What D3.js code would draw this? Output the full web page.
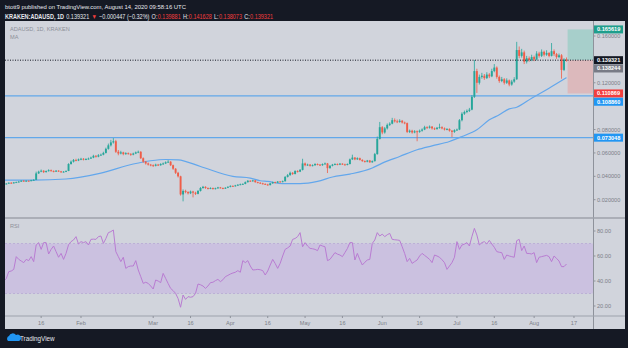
<!DOCTYPE html>
<html><head><meta charset="utf-8">
<script src="https://cdn.jsdelivr.net/npm/d3@7"></script>
<style>html,body{margin:0;padding:0;background:#151924;}svg{display:block}</style>
</head><body><svg id="c" width="628" height="348"></svg>
<script>
// ---------------- DATA ----------------
const startDate = "2020-01-01";
const firstOpen = 0.0330;
const closes = [
0.0335,0.0338,0.0345,0.0340,0.0348,0.0350,0.0355,0.0362,0.0358,0.0362,
0.0360,0.0366,0.0370,0.0425,0.0440,0.0448,0.0436,0.0445,0.0452,0.0446,
0.0440,0.0448,0.0442,0.0436,0.0440,0.0446,0.0505,0.0525,0.0540,0.0535,
0.0545,0.0550,0.0542,0.0548,0.0552,0.0560,0.0575,0.0568,0.0580,0.0585,
0.0600,0.0635,0.0665,0.0690,0.0700,0.0610,0.0595,0.0605,0.0590,0.0598,
0.0592,0.0585,0.0595,0.0605,0.0610,0.0555,0.0525,0.0510,0.0500,0.0495,
0.0490,0.0500,0.0495,0.0505,0.0510,0.0520,0.0525,0.0495,0.0465,0.0430,
0.0400,0.0245,0.0275,0.0265,0.0255,0.0270,0.0260,0.0250,0.0275,0.0300,
0.0310,0.0300,0.0295,0.0300,0.0292,0.0298,0.0305,0.0300,0.0295,0.0302,
0.0310,0.0318,0.0315,0.0322,0.0328,0.0332,0.0335,0.0350,0.0362,0.0358,
0.0365,0.0350,0.0345,0.0340,0.0335,0.0330,0.0325,0.0340,0.0350,0.0345,
0.0355,0.0352,0.0358,0.0395,0.0410,0.0430,0.0420,0.0445,0.0440,0.0455,
0.0510,0.0495,0.0500,0.0490,0.0495,0.0505,0.0500,0.0495,0.0505,0.0510,
0.0470,0.0490,0.0500,0.0505,0.0500,0.0508,0.0502,0.0498,0.0505,0.0545,
0.0560,0.0545,0.0555,0.0540,0.0530,0.0525,0.0535,0.0520,0.0530,0.0590,
0.0720,0.0820,0.0775,0.0810,0.0840,0.0850,0.0880,0.0870,0.0865,0.0875,
0.0860,0.0855,0.0780,0.0790,0.0775,0.0785,0.0780,0.0790,0.0800,0.0820,
0.0815,0.0825,0.0810,0.0805,0.0815,0.0820,0.0810,0.0800,0.0805,0.0790,
0.0780,0.0795,0.0800,0.0880,0.0935,0.0950,0.0960,0.0970,0.1080,0.1300,
0.1200,0.1250,0.1260,0.1240,0.1270,0.1255,0.1300,0.1330,0.1250,0.1215,
0.1230,0.1200,0.1220,0.1185,0.1210,0.1230,0.1480,0.1430,0.1460,0.1380,
0.1410,0.1395,0.1420,0.1400,0.1450,0.1430,0.1465,0.1440,0.1455,0.1430,
0.1470,0.1445,0.1420,0.1435,0.1310,0.139881,0.139321];
const highs = [
.0338,.0342,.0348,.0350,.0352,.0355,.0360,.0366,.0368,.0366,
.0365,.0370,.0375,.0440,.0448,.0458,.0452,.0450,.0460,.0458,
.0450,.0453,.0452,.0446,.0445,.0450,.0512,.0535,.0548,.0550,
.0552,.0558,.0556,.0555,.0560,.0568,.0584,.0582,.0590,.0594,
.0610,.0645,.0680,.0712,.0727,.0712,.0625,.0618,.0610,.0606,
.0604,.0598,.0602,.0612,.0620,.0615,.0562,.0532,.0518,.0506,
.0502,.0508,.0506,.0512,.0518,.0528,.0538,.0530,.0500,.0470,
.0438,.0405,.0288,.0285,.0272,.0278,.0276,.0268,.0282,.0308,
.0318,.0315,.0305,.0306,.0304,.0303,.0310,.0309,.0304,.0307,
.0315,.0323,.0322,.0327,.0333,.0338,.0340,.0356,.0368,.0366,
.0370,.0368,.0354,.0350,.0345,.0340,.0336,.0345,.0355,.0354,
.0360,.0360,.0364,.0402,.0420,.0440,.0436,.0452,.0452,.0462,
.0550,.0518,.0508,.0505,.0502,.0512,.0510,.0505,.0510,.0518,
.0514,.0496,.0506,.0512,.0510,.0514,.0512,.0508,.0510,.0552,
.0585,.0565,.0562,.0560,.0546,.0536,.0540,.0540,.0536,.0600,
.0740,.0865,.0830,.0822,.0852,.0862,.0900,.0895,.0885,.0888,
.0882,.0868,.0860,.0800,.0798,.0795,.0792,.0800,.0810,.0832,
.0828,.0835,.0830,.0818,.0822,.0850,.0828,.0818,.0812,.0810,
.0796,.0802,.0808,.0890,.0948,.0962,.0972,.0985,.1095,.1395,
.1320,.1270,.1285,.1275,.1290,.1282,.1320,.1360,.1340,.1262,
.1250,.1240,.1238,.1228,.1225,.1248,.1550,.1510,.1490,.1475,
.1430,.1425,.1440,.1432,.1470,.1465,.1485,.1475,.1478,.1462,
.1540,.1485,.1455,.1450,.1445,.1410,.141628];
const lows = [
.0328,.0331,.0335,.0337,.0338,.0345,.0347,.0352,.0355,.0354,
.0356,.0358,.0363,.0368,.0420,.0435,.0428,.0432,.0440,.0440,
.0434,.0437,.0438,.0430,.0432,.0436,.0444,.0500,.0518,.0528,
.0530,.0538,.0536,.0538,.0542,.0548,.0555,.0560,.0563,.0575,
.0580,.0595,.0628,.0655,.0680,.0600,.0580,.0588,.0580,.0584,
.0585,.0575,.0580,.0590,.0598,.0548,.0515,.0500,.0492,.0486,
.0480,.0485,.0488,.0490,.0498,.0505,.0515,.0488,.0455,.0420,
.0390,.0235,.0186,.0255,.0245,.0248,.0220,.0240,.0246,.0270,
.0294,.0293,.0288,.0290,.0286,.0288,.0294,.0295,.0290,.0292,
.0299,.0306,.0310,.0312,.0318,.0324,.0328,.0332,.0346,.0352,
.0354,.0345,.0340,.0335,.0330,.0326,.0320,.0322,.0336,.0340,
.0342,.0348,.0348,.0355,.0390,.0405,.0412,.0416,.0432,.0436,
.0450,.0486,.0490,.0483,.0485,.0490,.0494,.0488,.0490,.0500,
.0428,.0465,.0485,.0495,.0494,.0496,.0497,.0492,.0494,.0502,
.0540,.0538,.0540,.0535,.0524,.0518,.0520,.0515,.0516,.0526,
.0585,.0715,.0760,.0765,.0800,.0830,.0845,.0860,.0855,.0858,
.0852,.0845,.0770,.0770,.0765,.0768,.0700,.0772,.0782,.0795,
.0806,.0808,.0800,.0796,.0798,.0808,.0802,.0792,.0794,.0782,
.0735,.0772,.0788,.0795,.0870,.0925,.0940,.0950,.0965,.1070,
.1113,.1185,.1235,.1225,.1232,.1240,.1248,.1290,.1235,.1200,
.1205,.1185,.1190,.1170,.1175,.1200,.1225,.1410,.1415,.1360,
.1365,.1380,.1385,.1385,.1392,.1415,.1420,.1425,.1430,.1418,
.1425,.1430,.1405,.1410,.1235,.1300,.138073];
// moving average, read at sample days (day index from start)
const maDays   = [0,12,25,39,52,59,65,70,79,92,99,103,106,112,119,126,132,139,148,152,159,166,172,179,184,190,195,199,203,206,212,219,226];
const maValues = [0.0368,0.0368,0.0377,0.0428,0.0505,0.0533,0.0544,0.0541,0.0484,0.0399,0.0385,0.0362,0.0356,0.0337,0.0337,0.0356,0.0394,0.0419,0.0471,0.0513,0.0570,0.0627,0.0661,0.0698,0.0740,0.0798,0.0883,0.0926,0.0977,0.0991,0.1068,0.1154,0.1244];
// RSI daily values
const rsiValues = [
40,42,47.5,48,49.3,59.5,57.3,56,54.7,57.3,
56.3,59.5,55.5,68.8,70.7,65.3,70.7,70.7,61.6,65.3,
68,63.5,59,62.1,57.3,62.1,69,71.5,72.8,75.5,
69.6,71.5,70.7,71.5,68.8,73.3,73.5,73.3,75.5,76,
70.1,74,78.7,79.5,80.8,63.5,59.5,55.5,59,50.1,
51.5,52,52,56.3,48.8,43.5,38.1,39,38.1,36,
33.6,40.8,40,38.7,46.1,42.1,38,34.1,32.3,30.1,
26,19,28.8,25.3,27.5,27,27.5,30.1,37.6,37,
36,34.1,36,38.7,39,40.3,41.3,39.5,41,43.5,
44.5,45.6,46.4,47,48.3,47,56.3,54.7,56.3,52,
48.8,49,49.3,49,48.3,44.8,48,52.8,57.3,54,
50.1,54.1,60,65.3,66.5,68,73.3,74,75.5,78.7,
67.4,70.7,68,66.1,65.8,65.3,64.3,68.8,68,67.4,
56.3,57.3,60,62.7,61.5,60.8,59.5,62.7,66,70.7,
70.7,56.8,62.1,57,52.8,55,56.8,57.3,70.1,72.8,
78.7,76,77.5,75.5,77,78.1,73.3,73,72.8,72.5,
67.4,62,55.5,58.1,54.1,55.5,56.8,60,62.1,60.5,
59,57.3,54.7,60.8,60,59,57,54.7,49.3,52,
54.7,59,71.5,65.3,68.8,69.5,70.7,68,75.5,82.1,
76.8,68.8,70.7,71.5,69.6,72.5,69.6,67,63.5,63,
62.7,57.3,60.8,60,59.5,59,72.3,73.3,64.3,68,
62.1,62,61.6,62.7,54.7,59,59.5,60,60.5,59.5,
55.5,60,58.1,56,51.5,51.5,53.6];
const priceTicks = [0.16, 0.12, 0.08, 0.06, 0.04, 0.02];
const rsiTicks = [80, 60, 40, 20];
const rsiBand = [30, 70];
const timeTickDates  = ["2020-01-16","2020-02-01","2020-03-01","2020-03-16","2020-04-01","2020-04-16","2020-05-01","2020-05-16","2020-06-01","2020-06-16","2020-07-01","2020-07-16","2020-08-01","2020-08-17"];
const timeTickLabels = ["16","Feb","Mar","16","Apr","16","May","16","Jun","16","Jul","16","Aug","17"];
const levelLines = [0.108860, 0.073048];
const entryPrice = 0.139321, targetPrice = 0.165619, stopPrice = 0.110869;
const axisLabelValues = [0.165619, 0.139321, 0.138244, 0.110869, 0.108860, 0.073048];
const axisLabelKinds  = ["target","last","gray","stop","level","level"];
const headerLine1 = "btott9 published on TradingView.com, August 14, 2020 09:58:16 UTC";
const symbolText = "KRAKEN:ADAUSD, 1D";
const lastText = "0.139321";
const changeText = "−0.000447 (−0.32%)";
const ohlcNames = ["O:","H:","L:","C:"];
const ohlcVals  = ["0.139881","0.141628","0.138073","0.139321"];

// ---------------- DRAW ----------------
const W = 628, H = 348;
const PL = 5, PR = 593, PT = 21, PB = 217.5, RT = 218.5, RB = 316, AB = 329, AR = 625;
const FONT = "'Liberation Sans', Arial, sans-serif";
const UP = "#26a69a", DN = "#ef5d48";
const svg = d3.select("#c");
svg.append("rect").attr("width", W).attr("height", H).attr("fill", "#151924");
svg.append("rect").attr("x", PL).attr("y", PT).attr("width", AR - PL).attr("height", AB - PT).attr("fill", "#d1d4dc");

const parse = d3.utcParse("%Y-%m-%d");
const t0 = parse(startDate);
const DAY = 864e5;
const dates = closes.map((_, i) => new Date(+t0 + i * DAY));
const opens = closes.map((c, i) => i === 0 ? firstOpen : closes[i - 1]);
const x = d3.scaleUtc().domain([t0, dates[dates.length - 1]]).range([3.8, 566.5]);
const y = d3.scaleLinear().domain([0.02, 0.16]).range([199.7, 36]);
const yr = d3.scaleLinear().domain([20, 80]).range([306, 231]);

const defs = svg.append("defs");
defs.append("clipPath").attr("id", "cm").append("rect").attr("x", PL).attr("y", PT).attr("width", PR - PL).attr("height", PB - PT);
defs.append("clipPath").attr("id", "cr").append("rect").attr("x", PL).attr("y", RT).attr("width", PR - PL).attr("height", RB - RT);

const main = svg.append("g").attr("clip-path", "url(#cm)");
main.selectAll(".lvl").data(levelLines).join("line")
  .attr("x1", PL).attr("x2", PR).attr("y1", d => y(d)).attr("y2", d => y(d))
  .attr("stroke", "#62a8ea").attr("stroke-width", 1.3);
const bx = x(new Date(+dates[dates.length - 1] + DAY * 0.45));
main.append("rect").attr("x", bx).attr("width", PR - bx).attr("y", y(targetPrice)).attr("height", y(entryPrice) - y(targetPrice)).attr("fill", "#a7cfcb");
main.append("rect").attr("x", bx).attr("width", PR - bx).attr("y", y(entryPrice)).attr("height", y(stopPrice) - y(entryPrice)).attr("fill", "#dcb9bc");
const maLine = d3.line().x(d => x(new Date(+t0 + d[0] * DAY))).y(d => y(d[1])).curve(d3.curveMonotoneX);
main.append("path").attr("d", maLine(maDays.map((d, i) => [d, maValues[i]])))
  .attr("fill", "none").attr("stroke", "#63a7ec").attr("stroke-width", 1.2);
const cg = main.append("g");
dates.forEach((d, i) => {
  const o = opens[i], c = closes[i], col = c >= o ? UP : DN;
  const cx = x(d);
  cg.append("line").attr("x1", cx).attr("x2", cx).attr("y1", y(highs[i])).attr("y2", y(lows[i])).attr("stroke", col).attr("stroke-width", 0.8);
  const top = y(Math.max(o, c)), bot = y(Math.min(o, c));
  cg.append("rect").attr("x", cx - 0.95).attr("width", 1.9).attr("y", top).attr("height", Math.max(0.9, bot - top)).attr("fill", col);
});
main.append("line").attr("x1", PL).attr("x2", PR).attr("y1", y(entryPrice)).attr("y2", y(entryPrice))
  .attr("stroke", "#131722").attr("stroke-width", 1).attr("stroke-dasharray", "1,1.5");

// RSI pane
const rg = svg.append("g").attr("clip-path", "url(#cr)");
rg.append("rect").attr("x", PL).attr("width", PR - PL).attr("y", yr(rsiBand[1])).attr("height", yr(rsiBand[0]) - yr(rsiBand[1])).attr("fill", "#cbc1e0");
rg.selectAll(".bl").data(rsiBand).join("line").attr("x1", PL).attr("x2", PR).attr("y1", d => yr(d)).attr("y2", d => yr(d))
  .attr("stroke", "#b8a8d4").attr("stroke-width", 0.8).attr("stroke-dasharray", "2,2");
rg.append("path").attr("d", d3.line().x((d, i) => x(dates[i])).y(d => yr(d))(rsiValues))
  .attr("fill", "none").attr("stroke", "#b97cd2").attr("stroke-width", 1);

// separators
svg.append("line").attr("x1", PR + 0.5).attr("x2", PR + 0.5).attr("y1", PT).attr("y2", AB).attr("stroke", "#8e929b").attr("stroke-width", 1);
svg.append("line").attr("x1", PL).attr("x2", AR).attr("y1", 218).attr("y2", 218).attr("stroke", "#9ea2ab").attr("stroke-width", 1.5);
svg.append("line").attr("x1", PL).attr("x2", AR).attr("y1", RB).attr("y2", RB).attr("stroke", "#9ea2ab").attr("stroke-width", 1.2);

// price axis
const fmt = d3.format(".6f");
const pax = svg.append("g");
priceTicks.forEach(v => {
  pax.append("line").attr("x1", PR).attr("x2", PR + 2.5).attr("y1", y(v)).attr("y2", y(v)).attr("stroke", "#8e929b");
  pax.append("text").attr("x", PR + 4).attr("y", y(v) + 2).text(fmt(v))
    .attr("font-family", FONT).attr("font-size", 5.6).attr("fill", "#7c7f88");
});
const kindColor = {target: "#1f9e8c", last: "#131722", gray: "#787b86", stop: "#f23e3e", level: "#2196f3"};
let lastY = -1e9;
axisLabelValues.map((v, i) => ({v, k: axisLabelKinds[i], yy: y(v)}))
  .sort((a, b) => a.yy - b.yy)
  .forEach(l => {
    let cy = Math.max(l.yy, lastY + 8.3);
    lastY = cy;
    pax.append("rect").attr("x", PR + 1).attr("y", cy - 4).attr("width", 29).attr("height", 8).attr("fill", kindColor[l.k]);
    pax.append("text").attr("x", PR + 4).attr("y", cy + 2).text(fmt(l.v))
      .attr("font-family", FONT).attr("font-size", 5.6).attr("font-weight", "bold").attr("fill", "#ffffff");
  });
rsiTicks.forEach(v => {
  pax.append("line").attr("x1", PR).attr("x2", PR + 2.5).attr("y1", yr(v)).attr("y2", yr(v)).attr("stroke", "#8e929b");
  pax.append("text").attr("x", PR + 4).attr("y", yr(v) + 2).text(d3.format(".2f")(v))
    .attr("font-family", FONT).attr("font-size", 5.6).attr("fill", "#7c7f88");
});
timeTickDates.forEach((s, i) => {
  const tx = x(parse(s));
  pax.append("line").attr("x1", tx).attr("x2", tx).attr("y1", RB).attr("y2", RB + 2).attr("stroke", "#8e929b");
  pax.append("text").attr("x", tx).attr("y", 324.5).attr("text-anchor", "middle").text(timeTickLabels[i])
    .attr("font-family", FONT).attr("font-size", 5.6).attr("fill", "#7c7f88");
});

// legends
svg.append("text").attr("x", 10).attr("y", 31).text("ADAUSD, 1D, KRAKEN").attr("font-family", FONT).attr("font-size", 5.6).attr("fill", "#8d9099");
svg.append("text").attr("x", 10).attr("y", 39).text("MA").attr("font-family", FONT).attr("font-size", 5.6).attr("fill", "#8d9099");
svg.append("text").attr("x", 10).attr("y", 228).text("RSI").attr("font-family", FONT).attr("font-size", 5.6).attr("fill", "#8d9099");

// header line 1
svg.append("text").attr("x", 5).attr("y", 9).text(headerLine1).attr("font-family", FONT).attr("font-size", 6)
  .attr("textLength", 181).attr("lengthAdjust", "spacingAndGlyphs").attr("fill", "#e6e8ee");
// header line 2: separate segments laid out in sequence, then fitted to the reference width
const hg = svg.append("g");
const segs = [
  {t: symbolText, bold: true, col: "#e6e8ee"},
  {t: lastText, col: "#e6e8ee"},
  {t: "▼", col: "#f23e3e"},
  {t: changeText, col: "#e6e8ee"}
];
ohlcNames.forEach((n, i) => { segs.push({t: n, col: "#e6e8ee", tight: true}); segs.push({t: ohlcVals[i], col: "#f23e3e"}); });
let cx2 = 0;
segs.forEach(s => {
  const tEl = hg.append("text").attr("x", cx2).attr("y", 0).text(s.t)
    .attr("font-family", FONT).attr("font-size", 6.4).attr("font-weight", s.bold ? "bold" : "normal").attr("fill", s.col);
  cx2 += tEl.node().getComputedTextLength() + (s.tight ? 0.4 : 2.6);
});
const natural = cx2 - 2.6;
hg.attr("transform", `translate(5,18.5) scale(${268 / natural},1)`);

// TradingView footer
const lg = svg.append("g").attr("transform", "translate(6,333)");
lg.append("path").attr("d", "M2,8 a3,3 0 0 1 1,-5 a4,4 0 0 1 7,-1 a3,3 0 0 1 3,6 z").attr("fill", "#2196f3");
svg.append("text").attr("x", 20).attr("y", 340.5).text("TradingView").attr("font-family", FONT).attr("font-size", 6.3).attr("fill", "#e6e8ee");
</script></body></html>
